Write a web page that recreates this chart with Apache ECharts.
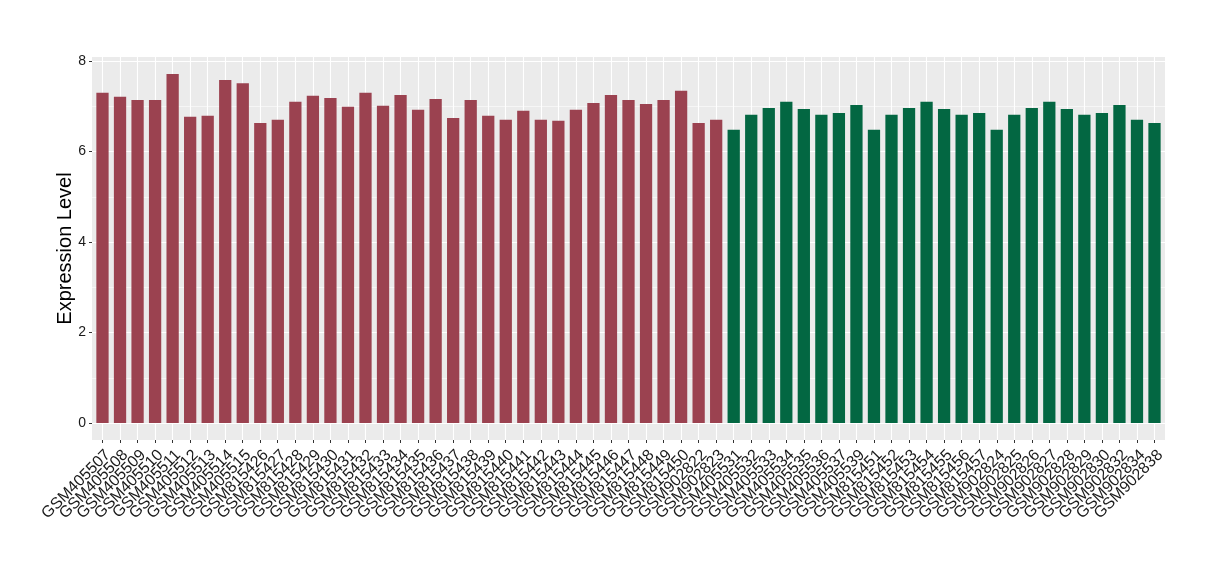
<!DOCTYPE html>
<html>
<head>
<meta charset="utf-8">
<script src="https://cdn.jsdelivr.net/npm/echarts@6/dist/echarts.min.js"></script>
<style>html,body{margin:0;padding:0;background:#fff;}#c{width:1220px;height:580px;}</style>
</head>
<body>
<div id="c"></div>
<script>
// ---- data ----
const categories = [
  "GSM405507","GSM405508","GSM405509","GSM405510","GSM405511","GSM405512","GSM405513","GSM405514","GSM405515",
  "GSM815426","GSM815427","GSM815428","GSM815429","GSM815430","GSM815431","GSM815432","GSM815433","GSM815434",
  "GSM815435","GSM815436","GSM815437","GSM815438","GSM815439","GSM815440","GSM815441","GSM815442","GSM815443",
  "GSM815444","GSM815445","GSM815446","GSM815447","GSM815448","GSM815449","GSM815450","GSM902822","GSM902823",
  "GSM405531","GSM405532","GSM405533","GSM405534","GSM405535","GSM405536","GSM405537","GSM405539",
  "GSM815451","GSM815452","GSM815453","GSM815454","GSM815455","GSM815456","GSM815457",
  "GSM902824","GSM902825","GSM902826","GSM902827","GSM902828","GSM902829","GSM902830","GSM902832","GSM902834","GSM902838"
];
const values = [
  7.30, 7.21, 7.14, 7.14, 7.71, 6.77, 6.79, 7.58, 7.51,
  6.63, 6.70, 7.10, 7.23, 7.18, 6.99, 7.30, 7.01, 7.25,
  6.92, 7.16, 6.74, 7.14, 6.79, 6.70, 6.90, 6.70, 6.68,
  6.92, 7.07, 7.25, 7.14, 7.05, 7.14, 7.34, 6.63, 6.70,
  6.48, 6.81, 6.96, 7.10, 6.94, 6.81, 6.85, 7.03,
  6.48, 6.81, 6.96, 7.10, 6.94, 6.81, 6.85,
  6.48, 6.81, 6.96, 7.10, 6.94, 6.81, 6.85, 7.03, 6.70, 6.63
];
const groups = [
  0,0,0,0,0,0,0,0,0, 0,0,0,0,0,0,0,0,0, 0,0,0,0,0,0,0,0,0, 0,0,0,0,0,0,0,0,0,
  1,1,1,1,1,1,1,1, 1,1,1,1,1,1,1, 1,1,1,1,1,1,1,1,1,1
];
const yTicks = { min: 0, max: 8, step: 2 };
const yTitle = "Expression Level";

// ---- styles / layout ----
const palette = ["#9B4250", "#036742"];
const FONT = "Liberation Sans, Arial, Helvetica, sans-serif";
const panel = { left: 92, right: 55, top: 57, bottom: 140 };
const valTop = 61, valBottom = 157;               // y=8 and y=0 pixel rows
const unit = (1220 - panel.left - panel.right) / (categories.length + 1.2);
const barsLeft = panel.left + 0.6 * unit - unit / 2;
const barsRight = panel.right + 0.6 * unit - unit / 2;
const ctrLeft = panel.left + 0.6 * unit;
const ctrRight = panel.right + 0.6 * unit;

const chart = echarts.init(document.getElementById('c'), null, { renderer: 'canvas' });
chart.setOption({
  animation: false,
  backgroundColor: '#ffffff',
  textStyle: { fontFamily: FONT },
  grid: [
    { left: panel.left, right: panel.right, top: panel.top, bottom: panel.bottom,
      show: true, backgroundColor: '#EBEBEB', borderWidth: 0, z: 0 },
    { left: panel.left, right: panel.right, top: valTop, bottom: valBottom },
    { left: ctrLeft, right: ctrRight, top: panel.top, bottom: panel.bottom },
    { left: barsLeft, right: barsRight, top: valTop, bottom: valBottom }
  ],
  xAxis: [
    { gridIndex: 0, type: 'value', show: false },
    { gridIndex: 1, type: 'value', show: false, min: 0, max: 1 },
    { gridIndex: 2, type: 'category', data: categories, boundaryGap: false, z: 2,
      axisLine: { show: false },
      axisTick: { show: true, interval: 0, length: 3, lineStyle: { color: '#333333', width: 1 } },
      axisLabel: { interval: 0, rotate: 45, margin: 7, fontSize: 16, color: '#1a1a1a', fontFamily: FONT,
                   align: 'right', verticalAlign: 'top' },
      splitLine: { show: true, interval: 0, lineStyle: { color: '#ffffff', width: 1.1 } } },
    { gridIndex: 3, type: 'category', data: categories, boundaryGap: true, show: false }
  ],
  yAxis: [
    { gridIndex: 0, type: 'value', show: false },
    { gridIndex: 1, type: 'value', min: yTicks.min, max: yTicks.max, interval: yTicks.step, z: 2,
      name: yTitle, nameLocation: 'middle', nameGap: 17, nameMoveOverlap: false,
      nameTextStyle: { fontSize: 20, color: '#000000', fontFamily: FONT, padding: [0, 13, 0, 0] },
      axisLine: { show: false },
      axisTick: { show: true, length: 3, lineStyle: { color: '#333333', width: 1 } },
      axisLabel: { fontSize: 14, color: '#1a1a1a', margin: 6, fontFamily: FONT },
      splitLine: { show: true, lineStyle: { color: '#ffffff', width: 1.1 } },
      minorTick: { show: false, splitNumber: 2 },
      minorSplitLine: { show: true, lineStyle: { color: '#ffffff', width: 0.55 } } },
    { gridIndex: 2, type: 'value', show: false },
    { gridIndex: 3, type: 'value', min: yTicks.min, max: yTicks.max, show: false }
  ],
  series: [{
    type: 'bar',
    xAxisIndex: 3, yAxisIndex: 3,
    barWidth: '70%',
    z: 5,
    data: values.map((v, i) => ({ value: v, itemStyle: { color: palette[groups[i]] } }))
  }]
});
</script>
</body>
</html>
